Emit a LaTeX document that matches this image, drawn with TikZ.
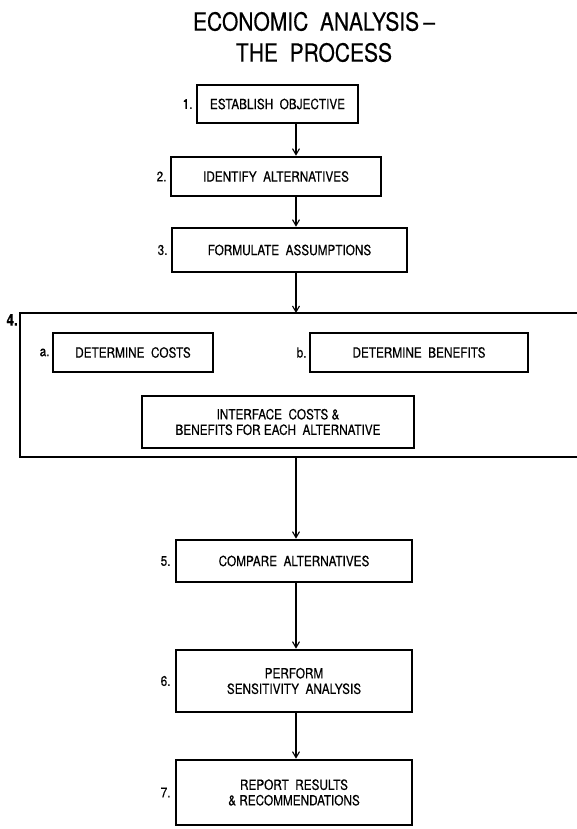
\documentclass[tikz,border=0pt]{standalone}
\usepackage{fontspec}
\setmainfont{TeX Gyre Heros}[FakeStretch=0.84,FakeBold=0.4]
\usetikzlibrary{positioning, arrows.meta}

\begin{document}
\begin{tikzpicture}[x=1pt,y=-1pt,>={Straight Barb[length=6pt,width=7pt]},
  stepbox/.style={draw,line width=2.6pt,align=center,inner sep=0pt,
                  font=\fontsize{14}{15.5}\selectfont},
  num/.style={inner sep=1pt,font=\fontsize{14}{15.5}\selectfont},
  flow/.style={->,line width=1.1pt}]
  \useasboundingbox (0,0) rectangle (577,829);
  \coordinate (axis) at (296,0);

  \node[align=center,font=\fontsize{25}{31}\selectfont] (title) at (314,37)
    {ECONOMIC\ \ ANALYSIS\,--\\THE\ \ PROCESS};

  % main chain of steps
  \node[stepbox,minimum width=161,minimum height=38] (est) at (277.5,104) {ESTABLISH\ \ OBJECTIVE};
  \node[stepbox,minimum width=210,minimum height=39] (ident) at (276,176.5) {IDENTIFY\ \ ALTERNATIVES};
  \node[stepbox,minimum width=235,minimum height=44] (form) at (289.5,250) {FORMULATE\ \ ASSUMPTIONS};

  % step 4 frame, open on the right
  \coordinate (frtop) at (20,313);
  \coordinate (frbot) at (20,457);
  \draw[line width=1.4pt] (577,313) -- (frtop) -- (frbot) -- (577,457);
  \node[stepbox,minimum width=160,minimum height=39] (costs) at (133,352.5) {DETERMINE\ \ COSTS};
  \node[stepbox,minimum width=218,minimum height=39] (bens) at (419,352.5) {DETERMINE\ \ BENEFITS};
  \node[stepbox,minimum width=272,minimum height=52] (iface) at (278,422)
    {INTERFACE\ \ COSTS\ \&\\BENEFITS FOR EACH\ \ ALTERNATIVE};

  \node[stepbox,minimum width=236,minimum height=42] (comp) at (294,561) {COMPARE\ \ ALTERNATIVES};
  \node[stepbox,minimum width=236,minimum height=62] (sens) at (294,681)
    {PERFORM\\SENSITIVITY\ \ ANALYSIS};
  \node[stepbox,minimum width=236,minimum height=65] (rep) at (294,792.5)
    {REPORT\ \ RESULTS\\\&\ RECOMMENDATIONS};

  % step numbers
  \node[num,left=2pt of est] {1.};
  \node[num,left=2pt of ident] {2.};
  \node[num,left=2pt of form] {3.};
  \node[num,anchor=north east,font=\bfseries\fontsize{16}{16}\selectfont] at ([xshift=-1pt]frtop) {4.};
  \node[num,left=1pt of costs] {a.};
  \node[num,left=1pt of bens] {b.};
  \node[num,left=3pt of comp] {5.};
  \node[num,left=3pt of sens] {6.};
  \node[num,left=3pt of rep] {7.};

  \draw[flow] (est.south -| axis) -- (ident.north -| axis);
  \draw[flow] (ident.south -| axis) -- (form.north -| axis);
  \draw[flow] (form.south -| axis) -- (frtop -| axis);
  \draw[flow] (frbot -| axis) -- (comp.north -| axis);
  \draw[flow] (comp.south -| axis) -- (sens.north -| axis);
  \draw[flow] (sens.south -| axis) -- (rep.north -| axis);
\end{tikzpicture}
\end{document}
